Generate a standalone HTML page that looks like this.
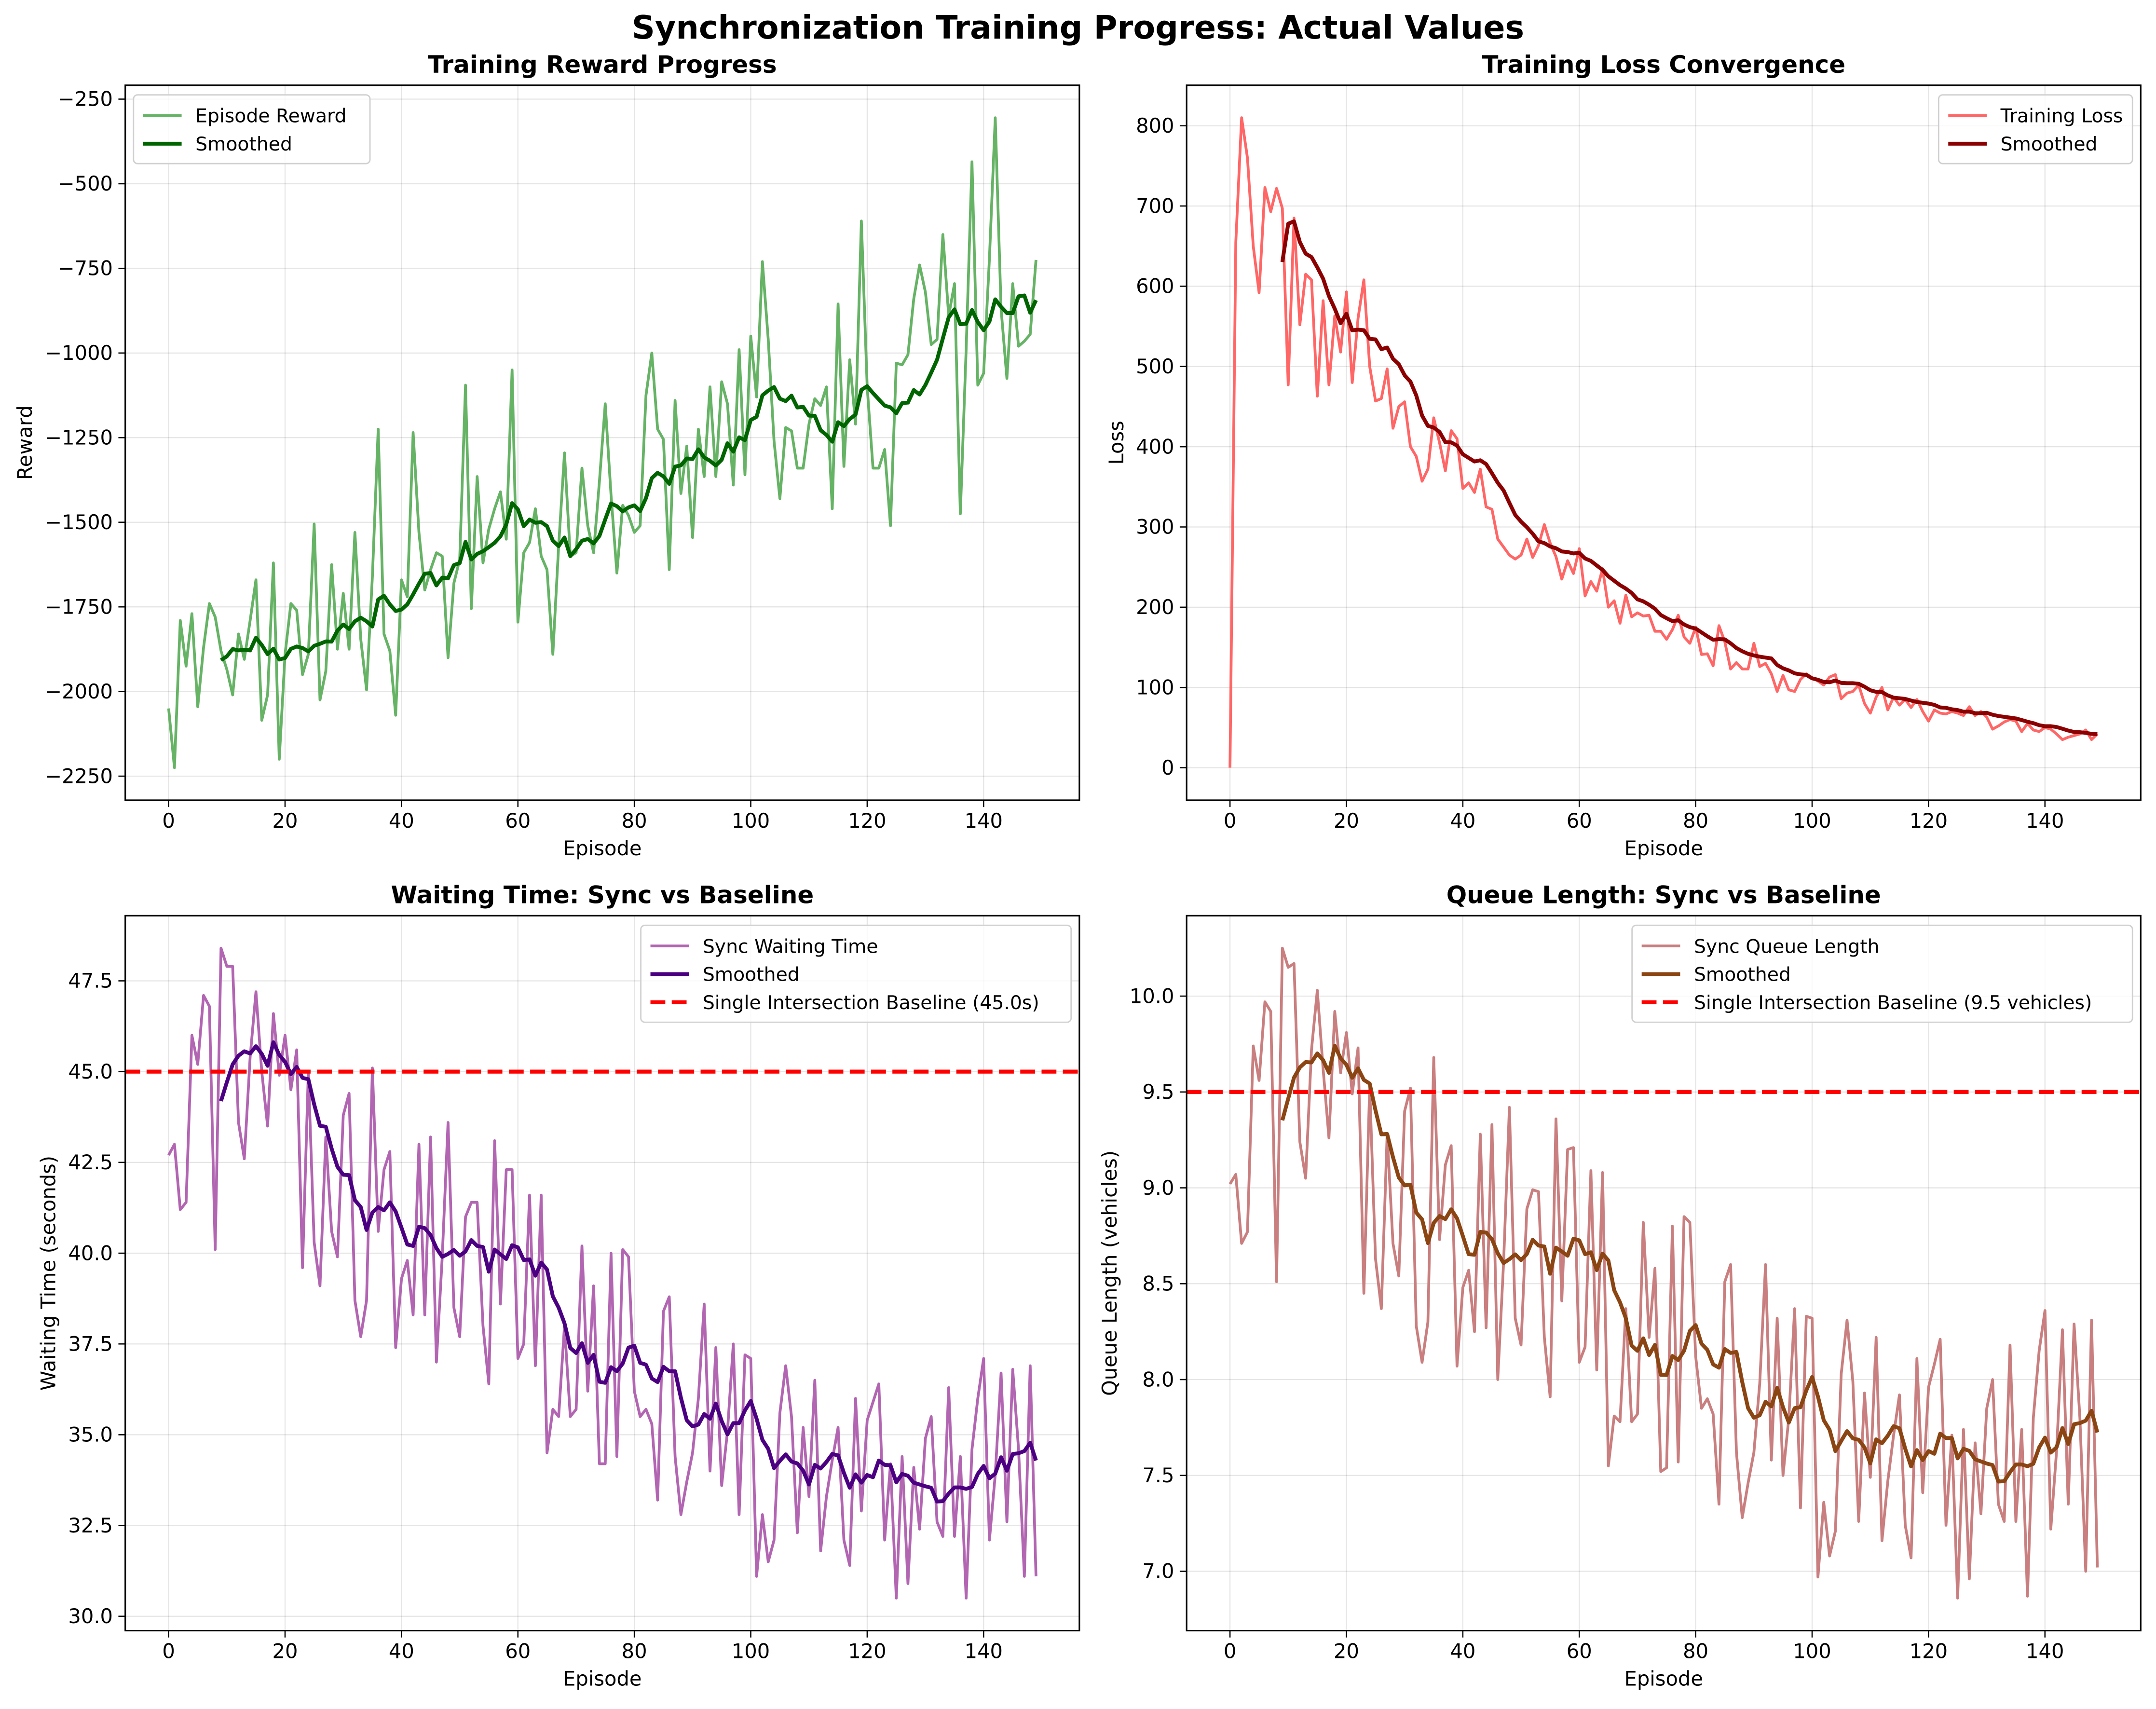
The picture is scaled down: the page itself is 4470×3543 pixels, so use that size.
<!DOCTYPE html>
<html><head><meta charset="utf-8">
<style>
html,body{margin:0;padding:0;background:#fff;}
svg{display:block;}
text{font-family:"DejaVu Sans","Liberation Sans",sans-serif;}
</style></head>
<body>
<svg id="fig" xmlns="http://www.w3.org/2000/svg" width="4470" height="3543" viewBox="0 0 1568 1243">
<rect width="1568" height="1243" fill="#fff"/>
<text x="784" y="28" text-anchor="middle" font-size="23.4" font-weight="bold">Synchronization Training Progress: Actual Values</text>
</svg>
<script>
const episodes = Array.from({length:150},(_, i)=>i);
const rewardValues = [-2050,-2225,-1790,-1925,-1770,-2045,-1870,-1740,-1780,-1880,-1935,-2010,-1830,-1905,-1790,-1670,-2085,-2010,-1620,-2200,-1890,-1740,-1760,-1950,-1890,-1505,-2025,-1940,-1625,-1875,-1710,-1875,-1530,-1845,-1995,-1660,-1225,-1830,-1880,-2070,-1670,-1720,-1235,-1530,-1700,-1640,-1590,-1600,-1900,-1680,-1610,-1095,-1755,-1365,-1620,-1520,-1460,-1410,-1550,-1050,-1795,-1590,-1560,-1460,-1600,-1640,-1890,-1570,-1295,-1600,-1590,-1340,-1510,-1590,-1380,-1150,-1420,-1650,-1450,-1480,-1530,-1510,-1125,-1000,-1225,-1255,-1640,-1140,-1415,-1275,-1545,-1225,-1365,-1100,-1365,-1085,-1150,-1390,-990,-1360,-950,-1130,-730,-960,-1260,-1430,-1220,-1230,-1340,-1340,-1210,-1135,-1155,-1100,-1460,-855,-1335,-1020,-1210,-610,-1100,-1340,-1340,-1285,-1510,-1030,-1035,-1005,-840,-740,-820,-975,-960,-650,-890,-795,-1475,-990,-435,-1095,-1060,-720,-305,-870,-1075,-795,-980,-965,-945,-725];
const lossValues = [0,655,810,760,650,592,723,693,722,697,477,685,552,615,608,463,582,477,563,518,593,480,560,608,500,457,460,497,423,450,456,400,388,357,372,436,405,370,420,410,348,355,343,372,325,322,285,275,265,260,265,285,262,277,303,280,263,235,258,242,273,214,232,220,248,200,208,180,215,188,193,189,190,170,170,160,172,190,163,155,175,141,142,127,177,157,123,131,123,123,155,126,130,117,95,115,97,95,110,117,112,108,103,113,116,86,93,95,103,80,68,88,100,72,88,78,85,75,85,70,58,72,68,67,70,68,65,76,65,70,63,48,52,57,60,58,45,55,47,45,50,48,42,35,38,40,42,47,35,42];
const waitValues = [42.7,43.0,41.2,41.4,46.0,45.2,47.1,46.8,40.1,48.4,47.9,47.9,43.6,42.6,45.4,47.2,45.0,43.5,46.6,44.9,46.0,44.5,45.6,39.6,45.0,40.3,39.1,43.2,40.6,39.9,43.8,44.4,38.7,37.7,38.7,45.1,40.6,42.3,42.8,37.4,39.3,39.8,38.3,43.0,38.3,43.2,37.0,39.9,43.6,38.5,37.7,41.0,41.4,41.4,38.0,36.4,43.1,38.6,42.3,42.3,37.1,37.5,41.6,36.9,41.6,34.5,35.7,35.5,38.0,35.5,35.7,40.2,36.2,39.1,34.2,34.2,40.0,34.4,40.1,39.9,36.2,35.5,35.7,35.3,33.2,38.4,38.8,34.4,32.8,33.7,34.5,36.0,38.6,34.0,37.4,33.6,35.1,37.5,32.8,37.2,37.1,31.1,32.8,31.5,32.1,35.6,36.9,35.5,32.3,35.2,33.3,36.5,31.8,33.3,34.3,35.2,32.1,31.4,36.0,32.9,35.4,35.9,36.4,32.1,34.2,30.5,34.4,30.9,34.1,32.4,34.9,35.5,32.6,32.2,36.3,32.2,34.4,30.5,34.6,36.0,37.1,32.1,33.9,36.7,32.6,36.8,34.6,31.1,36.9,31.1];
const queueValues = [9.02,9.07,8.71,8.77,9.74,9.56,9.97,9.92,8.51,10.25,10.15,10.17,9.24,9.05,9.72,10.03,9.62,9.26,9.92,9.60,9.81,9.49,9.73,8.45,9.53,8.63,8.37,9.28,8.71,8.54,9.40,9.52,8.28,8.09,8.30,9.68,8.73,9.12,9.22,8.07,8.48,8.57,8.25,9.28,8.27,9.33,8.00,8.61,9.42,8.32,8.18,8.89,8.99,8.98,8.22,7.91,9.36,8.41,9.20,9.21,8.09,8.17,9.09,8.05,9.08,7.55,7.81,7.78,8.37,7.78,7.82,8.82,8.22,8.58,7.52,7.54,8.80,7.57,8.85,8.82,8.12,7.85,7.90,7.82,7.35,8.51,8.60,7.62,7.28,7.46,7.62,7.98,8.60,7.58,8.32,7.50,7.80,8.37,7.33,8.33,8.32,6.97,7.36,7.08,7.21,8.03,8.31,7.99,7.26,7.93,7.49,8.22,7.16,7.47,7.71,7.92,7.24,7.07,8.11,7.41,7.96,8.08,8.21,7.24,7.71,6.86,7.74,6.96,7.67,7.30,7.85,8.00,7.35,7.26,8.18,7.26,7.74,6.87,7.80,8.15,8.36,7.22,7.63,8.26,7.35,8.29,7.80,7.00,8.31,7.02];
const xTicks = [0,20,40,60,80,100,120,140];
const rewardTicks = [-2250,-2000,-1750,-1500,-1250,-1000,-750,-500,-250];
const lossTicks = [0,100,200,300,400,500,600,700,800];
const waitTicks = [30.0,32.5,35.0,37.5,40.0,42.5,45.0,47.5];
const queueTicks = [7.0,7.5,8.0,8.5,9.0,9.5,10.0];
const waitBaseline = [45.0];
const queueBaseline = [9.5];
const smoothWindow = 10;

const NS = "http://www.w3.org/2000/svg";
const svg = document.getElementById('fig');
function mk(tag, attrs, parent){
  const e = document.createElementNS(NS, tag);
  for (const k in attrs) e.setAttribute(k, attrs[k]);
  (parent||svg).appendChild(e);
  return e;
}
function rolling(arr){
  const out=[];
  for(let i=smoothWindow-1;i<arr.length;i++){
    let s=0; for(let j=i-smoothWindow+1;j<=i;j++) s+=arr[j];
    out.push([i, s/smoothWindow]);
  }
  return out;
}
function extent(arrs){
  let mn=Infinity,mx=-Infinity;
  arrs.forEach(a=>a.forEach(v=>{if(v<mn)mn=v;if(v>mx)mx=v;}));
  const m=(mx-mn)*0.05; return [mn-m,mx+m];
}
function fmt(v,dec){ const s=Math.abs(v).toFixed(dec); return (v<0?'\u2212':'')+s; }

function panel(cfg){
  const g = mk('g',{});
  
  
  const L=cfg.x0,R=cfg.x1,T=cfg.y0,B=cfg.y1;
  const xd=[-7.45,156.45];
  const yd=extent([cfg.values].concat(cfg.baseline?[cfg.baseline]:[]));
  const sx=v=>L+(v-xd[0])/(xd[1]-xd[0])*(R-L);
  const sy=v=>B-(v-yd[0])/(yd[1]-yd[0])*(B-T);
  const t=mk('text',{x:(L+R)/2,y:T-9,'text-anchor':'middle','font-size':'17.5','font-weight':'bold'},g);
  t.textContent=cfg.title;
  
  
  xTicks.forEach(v=>{
    const x=sx(v);
    const gl=mk('line',{x1:x,x2:x,y1:T,y2:B,stroke:'#000','stroke-opacity':0.1,'stroke-width':0.8},g);
    
    
    mk('line',{x1:x,x2:x,y1:B,y2:B+5,stroke:'#000','stroke-width':0.9},g);
    const lt=mk('text',{x:x,y:B+20,'text-anchor':'middle','font-size':'14.6'},g);
    lt.textContent=String(v);
    
    
  });
  cfg.ticks.forEach(v=>{
    const y=sy(v);
    const gl=mk('line',{x1:L,x2:R,y1:y,y2:y,stroke:'#000','stroke-opacity':0.1,'stroke-width':0.8},g);
    
    
    mk('line',{x1:L-5,x2:L,y1:y,y2:y,stroke:'#000','stroke-width':0.9},g);
    const lt=mk('text',{x:L-9,y:y+5,'text-anchor':'end','font-size':'14.6'},g);
    lt.textContent=fmt(v,cfg.dec);
    
    
  });
  const cid='clip-'+cfg.name;
  const cp=mk('clipPath',{id:cid},g); mk('rect',{x:L,y:T,width:R-L,height:B-T},cp);
  const pts=cfg.values.map((v,i)=>sx(episodes[i]).toFixed(2)+','+sy(v).toFixed(2)).join(' ');
  const raw=mk('polyline',{points:pts,fill:'none',stroke:cfg.rawColor,'stroke-width':2.0,'stroke-linejoin':'round','clip-path':'url(#'+cid+')'},g);
  
  
  const sm=rolling(cfg.values);
  const spts=sm.map(p=>sx(p[0]).toFixed(2)+','+sy(p[1]).toFixed(2)).join(' ');
  const sl=mk('polyline',{points:spts,fill:'none',stroke:cfg.smColor,'stroke-width':2.8,'stroke-linejoin':'round','clip-path':'url(#'+cid+')'},g);
  
  
  if(cfg.baseline){
    const y=sy(cfg.baseline[0]);
    const bl=mk('line',{x1:L,x2:R,y1:y,y2:y,stroke:'#ff0000','stroke-width':2.9,'stroke-dasharray':'10.8 4.7'},g);
    
    
  }
  const fr=mk('rect',{x:L,y:T,width:R-L,height:B-T,fill:'none',stroke:'#000','stroke-width':1.1},g);
  
  
  const xl=mk('text',{x:(L+R)/2,y:B+40,'text-anchor':'middle','font-size':'14.6'},g);
  xl.textContent='Episode';
  
  
  const yl=mk('text',{x:0,y:0,'text-anchor':'middle','font-size':'14.6',transform:'translate('+cfg.ylx+','+((T+B)/2)+') rotate(-90)'},g);
  yl.textContent=cfg.ylabel;
  
  
  const lg=mk('g',{},g);
  
  
  const n=cfg.legend.length;
  const lh=n*20.5+9;
  const lx=cfg.legRight? R-6-cfg.legW : L+6;
  const ly=T+7;
  mk('rect',{x:lx,y:ly,width:cfg.legW,height:lh,rx:3,fill:'#fff','fill-opacity':0.8,stroke:'#d0d0d0','stroke-width':1},lg);
  cfg.legend.forEach((e,i)=>{
    const yy=ly+15+i*20.5;
    const ent=mk('g',{},lg);
    
    
    const la={x1:lx+7,x2:lx+35,y1:yy,y2:yy,stroke:e.c,'stroke-width':e.w};
    if(e.dash) la['stroke-dasharray']='10.8 4.7';
    mk('line',la,ent);
    const tx=mk('text',{x:lx+45,y:yy+5,'font-size':'13.8'},ent);
    tx.textContent=e.t;
  });
}
panel({name:'reward-panel',title:'Training Reward Progress',x0:91,x1:785,y0:62,y1:582,values:rewardValues,ticks:rewardTicks,dec:0,rawColor:'#66b366',smColor:'#006400',ylabel:'Reward',ylx:23,legRight:false,legW:172,
  legend:[{t:'Episode Reward',c:'#66b366',w:2.0},{t:'Smoothed',c:'#006400',w:2.8}]});
panel({name:'loss-panel',title:'Training Loss Convergence',x0:863,x1:1557,y0:62,y1:582,values:lossValues,ticks:lossTicks,dec:0,rawColor:'#ff6666',smColor:'#8b0000',ylabel:'Loss',ylx:817,legRight:true,legW:141,
  legend:[{t:'Training Loss',c:'#ff6666',w:2.0},{t:'Smoothed',c:'#8b0000',w:2.8}]});
panel({name:'waiting-panel',title:'Waiting Time: Sync vs Baseline',x0:91,x1:785,y0:666,y1:1186,values:waitValues,ticks:waitTicks,dec:1,baseline:waitBaseline,rawColor:'#b266b2',smColor:'#4b0082',ylabel:'Waiting Time (seconds)',ylx:40,legRight:true,legW:313,
  legend:[{t:'Sync Waiting Time',c:'#b266b2',w:2.0},{t:'Smoothed',c:'#4b0082',w:2.8},{t:'Single Intersection Baseline (45.0s)',c:'#ff0000',w:2.9,dash:true}]});
panel({name:'queue-panel',title:'Queue Length: Sync vs Baseline',x0:863,x1:1557,y0:666,y1:1186,values:queueValues,ticks:queueTicks,dec:1,baseline:queueBaseline,rawColor:'#c97f7f',smColor:'#8b4513',ylabel:'Queue Length (vehicles)',ylx:812,legRight:true,legW:364,
  legend:[{t:'Sync Queue Length',c:'#c97f7f',w:2.0},{t:'Smoothed',c:'#8b4513',w:2.8},{t:'Single Intersection Baseline (9.5 vehicles)',c:'#ff0000',w:2.9,dash:true}]});
</script>
</body></html>
